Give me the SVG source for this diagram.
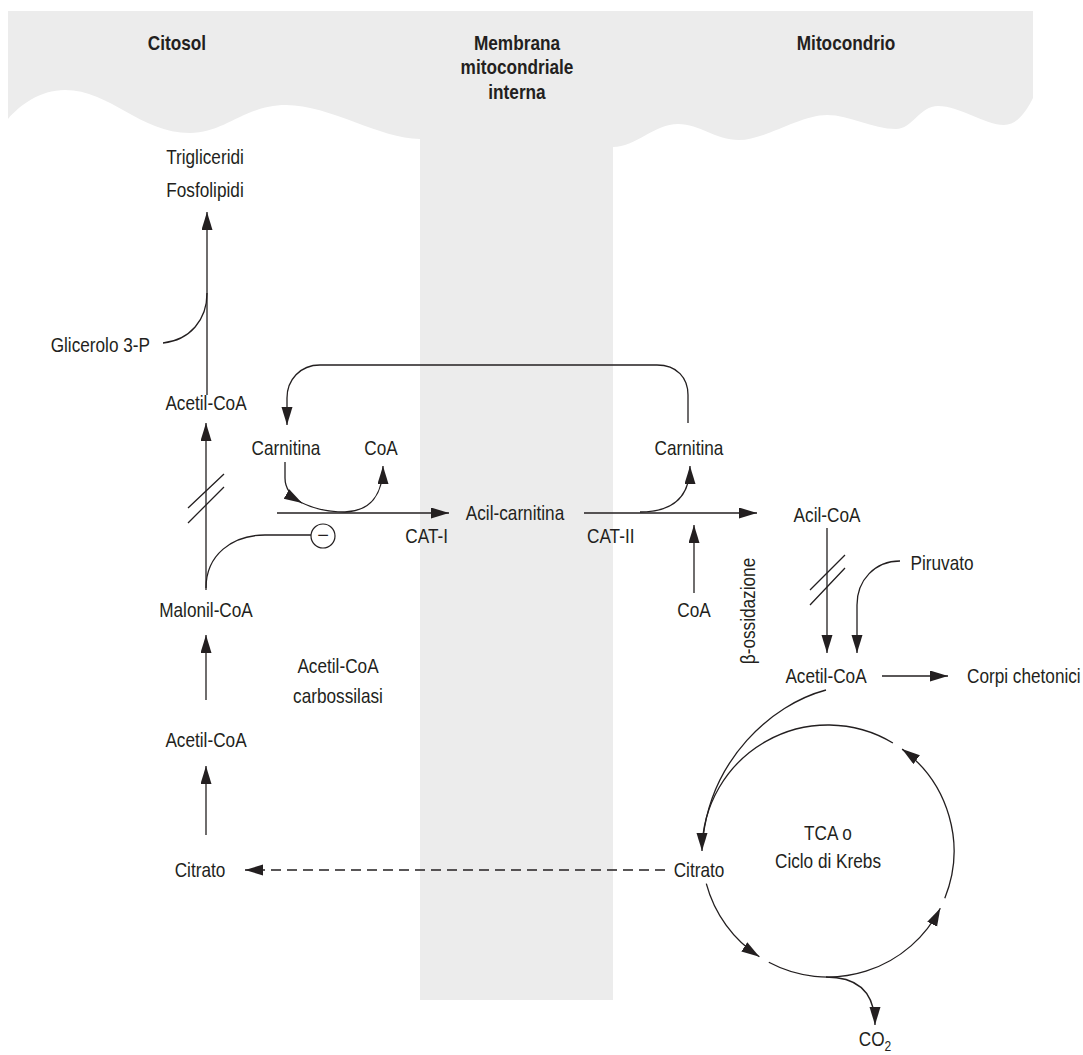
<svg xmlns="http://www.w3.org/2000/svg" width="1083" height="1055" viewBox="0 0 1083 1055">
<style>
text{font-family:"Liberation Sans",Arial,sans-serif;font-size:20px;fill:#231f20;text-anchor:middle}
.h{font-weight:bold;font-size:21px}
.e{text-anchor:end}
.s{text-anchor:start}
.ln{fill:none;stroke:#231f20;stroke-width:1.3}
.dash{stroke-dasharray:10 6}
</style>
<defs>
<marker id="ah" markerUnits="userSpaceOnUse" markerWidth="20" markerHeight="12" refX="18" refY="5.5" orient="auto">
<path d="M0,0 L18,5.5 L0,11 Z" fill="#231f20"/>
</marker>
</defs>
<g id="background">
<path d="M8,11 H1033 V98 C1025,114 1016,125 1004,125 C985,125 960,106 938,106 C920,106 912,129 896,129 C872,129 850,115 827,115 C800,115 765,140 739,140 C715,140 700,124 678,124 C655,124 635,147 613,147 V1000 H420 V139 C380,139 330,105 286,105 C245,105 225,133 190,133 C140,133 110,90 65,90 C40,90 20,105 8,119 Z" fill="#ececec"/>
</g>
<g id="labels-headers">
<text class="h" transform="translate(177,50) scale(0.82,1)">Citosol</text>
<text class="h" transform="translate(517,50) scale(0.82,1)">Membrana</text>
<text class="h" transform="translate(517,74) scale(0.82,1)">mitocondriale</text>
<text class="h" transform="translate(517,99) scale(0.82,1)">interna</text>
<text class="h" transform="translate(846,50) scale(0.82,1)">Mitocondrio</text>
</g>
<g id="connectors">
<path class="ln" d="M207,395 L207,212" marker-end="url(#ah)"/>
<path class="ln" d="M163,343 C190,340 207,320 207,293"/>
<path class="ln" d="M206,590 L206,423" marker-end="url(#ah)"/>
<path class="ln" d="M188,508 L224,474 M188,523 L224,487"/>
<path class="ln" d="M311,535 L265,535 C232,535 206,555 206,588"/>
<path class="ln" d="M206,700 L206,635" marker-end="url(#ah)"/>
<path class="ln" d="M206,835 L206,766" marker-end="url(#ah)"/>
<path class="ln dash" d="M665,870 L245,870" marker-end="url(#ah)"/>
<path class="ln" d="M688,423 L688,395 C688,378 677,365 657,365 L320,365 C300,365 287,380 287,398 L287,425" marker-end="url(#ah)"/>
<path class="ln" d="M285,462 L285,478 C285,488 290,496 302,503" marker-end="url(#ah)"/>
<path class="ln" d="M300,502 C316,510 332,512 345,512 C370,511 383,495 383,466" marker-end="url(#ah)"/>
<path class="ln" d="M277,513 L449,513" marker-end="url(#ah)"/>
<path class="ln" d="M584,513 L757,513" marker-end="url(#ah)"/>
<path class="ln" d="M640,512 C670,512 690,500 690,466" marker-end="url(#ah)"/>
<path class="ln" d="M694,593 L694,525" marker-end="url(#ah)"/>
<path class="ln" d="M827,528 L827,653" marker-end="url(#ah)"/>
<path class="ln" d="M810,590 L845,555 M810,605 L845,568"/>
<path class="ln" d="M900,561 C875,561 857,580 857,605 L857,653" marker-end="url(#ah)"/>
<path class="ln" d="M882,676 L948,676" marker-end="url(#ah)"/>
<path class="ln" d="M826,690 C770,705 712,760 703,838"/>
<path class="ln" d="M706.3,883.6 A126,126 0 0 0 759.4,956.7" marker-end="url(#ah)"/>
<path class="ln" d="M768.8,962.3 A126,126 0 0 0 940.3,908.2" marker-end="url(#ah)"/>
<path class="ln" d="M944.8,898.2 A126,126 0 0 0 902.1,749.1" marker-end="url(#ah)"/>
<path class="ln" d="M892.9,743 A126,126 0 0 0 702,851" marker-end="url(#ah)"/>
<path class="ln" d="M826,977 C855,977 875,990 875,1025" marker-end="url(#ah)"/>
</g>
<g id="inhibition">
<circle cx="323" cy="536" r="12" fill="none" stroke="#231f20" stroke-width="1.2"/>
<text x="323" y="542">−</text>
</g>
<g id="node-trigliceridi"><text transform="translate(205,164) scale(0.86,1)">Trigliceridi</text><text transform="translate(205,197) scale(0.86,1)">Fosfolipidi</text></g>
<g id="node-glicerolo"><text class="e" transform="translate(150,352) scale(0.86,1)">Glicerolo 3-P</text></g>
<g id="node-acetilcoa-1"><text transform="translate(206,410) scale(0.86,1)">Acetil-CoA</text></g>
<g id="node-malonilcoa"><text transform="translate(206,617) scale(0.86,1)">Malonil-CoA</text></g>
<g id="node-carbossilasi"><text transform="translate(338,673) scale(0.86,1)">Acetil-CoA</text><text transform="translate(338,703) scale(0.86,1)">carbossilasi</text></g>
<g id="node-acetilcoa-2"><text transform="translate(206,747) scale(0.86,1)">Acetil-CoA</text></g>
<g id="node-citrato-1"><text transform="translate(200,877) scale(0.86,1)">Citrato</text></g>
<g id="node-carnitina-1"><text transform="translate(286,455) scale(0.86,1)">Carnitina</text></g>
<g id="node-coa-1"><text transform="translate(381,455) scale(0.86,1)">CoA</text></g>
<g id="node-cat1"><text class="e" transform="translate(448,543) scale(0.86,1)">CAT-I</text></g>
<g id="node-acilcarnitina"><text transform="translate(515,520) scale(0.86,1)">Acil-carnitina</text></g>
<g id="node-cat2"><text class="s" transform="translate(587,543) scale(0.86,1)">CAT-II</text></g>
<g id="node-carnitina-2"><text transform="translate(689,455) scale(0.86,1)">Carnitina</text></g>
<g id="node-coa-2"><text transform="translate(694,617) scale(0.86,1)">CoA</text></g>
<g id="node-beta"><text transform="translate(755,611) rotate(-90) scale(0.86,1)">β-ossidazione</text></g>
<g id="node-acilcoa"><text transform="translate(827,522) scale(0.86,1)">Acil-CoA</text></g>
<g id="node-piruvato"><text transform="translate(942,570) scale(0.86,1)">Piruvato</text></g>
<g id="node-acetilcoa-3"><text transform="translate(826,683) scale(0.86,1)">Acetil-CoA</text></g>
<g id="node-corpi"><text class="s" transform="translate(967,683) scale(0.86,1)">Corpi chetonici</text></g>
<g id="node-citrato-2"><text transform="translate(699,877) scale(0.86,1)">Citrato</text></g>
<g id="node-tca"><text transform="translate(828,840) scale(0.86,1)">TCA o</text><text transform="translate(828,868) scale(0.86,1)">Ciclo di Krebs</text></g>
<g id="node-co2"><text transform="translate(875,1046) scale(0.86,1)">CO<tspan font-size="14" dy="5">2</tspan></text></g>
</svg>
